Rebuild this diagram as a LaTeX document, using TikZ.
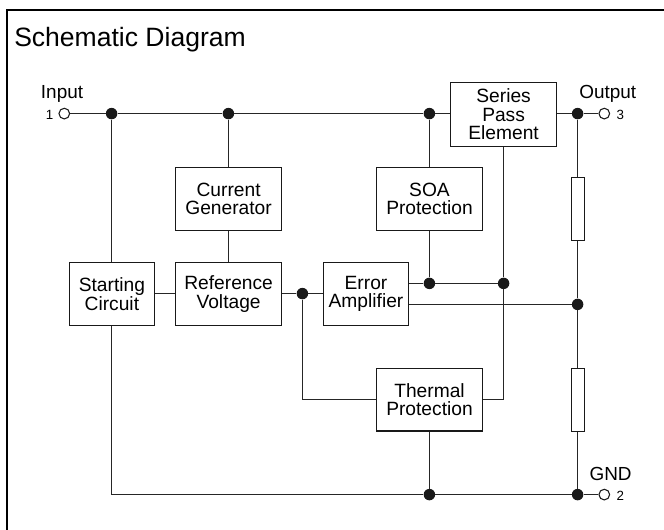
\documentclass[tikz,border=0pt]{standalone}
\usepackage{fontspec}
\setmainfont{Liberation Sans}
\tikzset{
  x=0.75pt,y=-0.75pt,
  wire/.style={line width=0.9pt,draw=black!85},
  blk/.style={draw=black!90,line width=0.9pt,fill=white,inner sep=0pt,align=center,font=\fontsize{14.4}{13.9}\selectfont},
  jdot/.style={circle,fill=black!90,inner sep=0pt,minimum size=8.6pt},
  term/.style={circle,draw=black!90,line width=0.8pt,fill=white,inner sep=0pt,minimum size=8pt},
  lbl/.style={inner sep=0pt,font=\fontsize{14.2}{16}\selectfont},
  pin/.style={inner sep=0pt,font=\fontsize{10}{12}\selectfont},
}
\newcommand{\blockat}[6]{% name, x1, y1, x2, y2, text
  \node[blk,minimum width=\dimexpr(#4pt-#2pt)*3/4\relax,minimum height=\dimexpr(#5pt-#3pt)*3/4\relax] (#1) at ({(#2+#4)/2},{(#3+#5)/2}) {#6};}
\begin{document}
\begin{tikzpicture}
\useasboundingbox (0,0) rectangle (664,530);
\draw[line width=1.5pt,black] (7,530) -- (7,10) -- (664,10);
\node[inner sep=0pt,anchor=base west,font=\fontsize{19.9}{22}\selectfont] (title) at (14,46.5) {Schematic Diagram};
% junctions and terminals
\node[term] (in) at (64.3,113.6) {};
\node[term] (out) at (604.3,113.6) {};
\node[term] (gnd) at (604.3,494.6) {};
\node[jdot] (j1) at (111.6,113.6) {};
\node[jdot] (j2) at (228.4,113.6) {};
\node[jdot] (j3) at (429.4,113.6) {};
\node[jdot] (j4) at (577.6,113.6) {};
\node[jdot] (j5) at (302.4,293.6) {};
\node[jdot] (j6) at (429.4,283.4) {};
\node[jdot] (j7) at (503.6,283.4) {};
\node[jdot] (j8) at (577.6,304.4) {};
\node[jdot] (j9) at (429.4,494.6) {};
\node[jdot] (j10) at (577.6,494.6) {};
% blocks
\blockat{cur}{175.6}{167.4}{281.6}{230.6}{Current\\Generator}
\blockat{start}{69.4}{262.4}{154.4}{325.6}{Starting\\Circuit}
\blockat{ref}{175.6}{262.4}{281.6}{325.6}{Reference\\Voltage}
\blockat{err}{323.6}{262.4}{408.4}{325.6}{Error\\Amplifier}
\blockat{ser}{450.6}{82.4}{556.6}{146.4}{Series\\Pass\\Element}
\blockat{soa}{376.4}{167.4}{482.6}{230.6}{SOA\\Protection}
\blockat{thm}{376.4}{368.4}{482.6}{431.0}{Thermal\\Protection}
\blockat{r1}{571.4}{177.6}{584.4}{240.6}{}
\blockat{r2}{571.4}{368.4}{584.4}{431.6}{}
% wires
\draw[wire] (in) -- (j1) -- (j2) -- (j3) -- (ser.west |- j3);
\draw[wire] (ser.east |- j4) -- (j4) -- (out);
\draw[wire] (j1) -- (start.north -| j1);
\draw[wire] (j2) -- (cur.north -| j2);
\draw[wire] (cur.south -| j2) -- (ref.north -| j2);
\draw[wire] (j3) -- (soa.north -| j3);
\draw[wire] (soa.south -| j6) -- (j6);
\draw[wire] (start.east |- j5) -- (ref.west |- j5);
\draw[wire] (ref.east |- j5) -- (j5) -- (err.west |- j5);
\draw[wire] (j5) |- (thm.west);
\draw[wire] (err.east |- j6) -- (j6) -- (j7);
\draw[wire] (err.east |- j8) -- (j8);
\draw[wire] (ser.south -| j7) -- (j7) |- (thm.east);
\draw[wire] (j4) -- (r1.north -| j4);
\draw[wire] (r1.south -| j4) -- (j8) -- (r2.north -| j8);
\draw[wire] (r2.south -| j8) -- (j10);
\draw[wire] (start.south -| j1) |- (j9);
\draw[wire] (j9) -- (j10) -- (gnd);
\draw[wire] (thm.south -| j9) -- (j9);
% labels
\node[lbl,anchor=base west] (linput) at (40.7,99) {Input};
\node[pin,anchor=base west] (p1) at (45.7,119.3) {1};
\node[lbl,anchor=base west] (loutput) at (579,99) {Output};
\node[pin,anchor=base west] (p3) at (616.3,119.3) {3};
\node[lbl,anchor=base west] (lgnd) at (589.3,481) {GND};
\node[pin,anchor=base west] (p2) at (616.3,500.7) {2};
\end{tikzpicture}
\end{document}
